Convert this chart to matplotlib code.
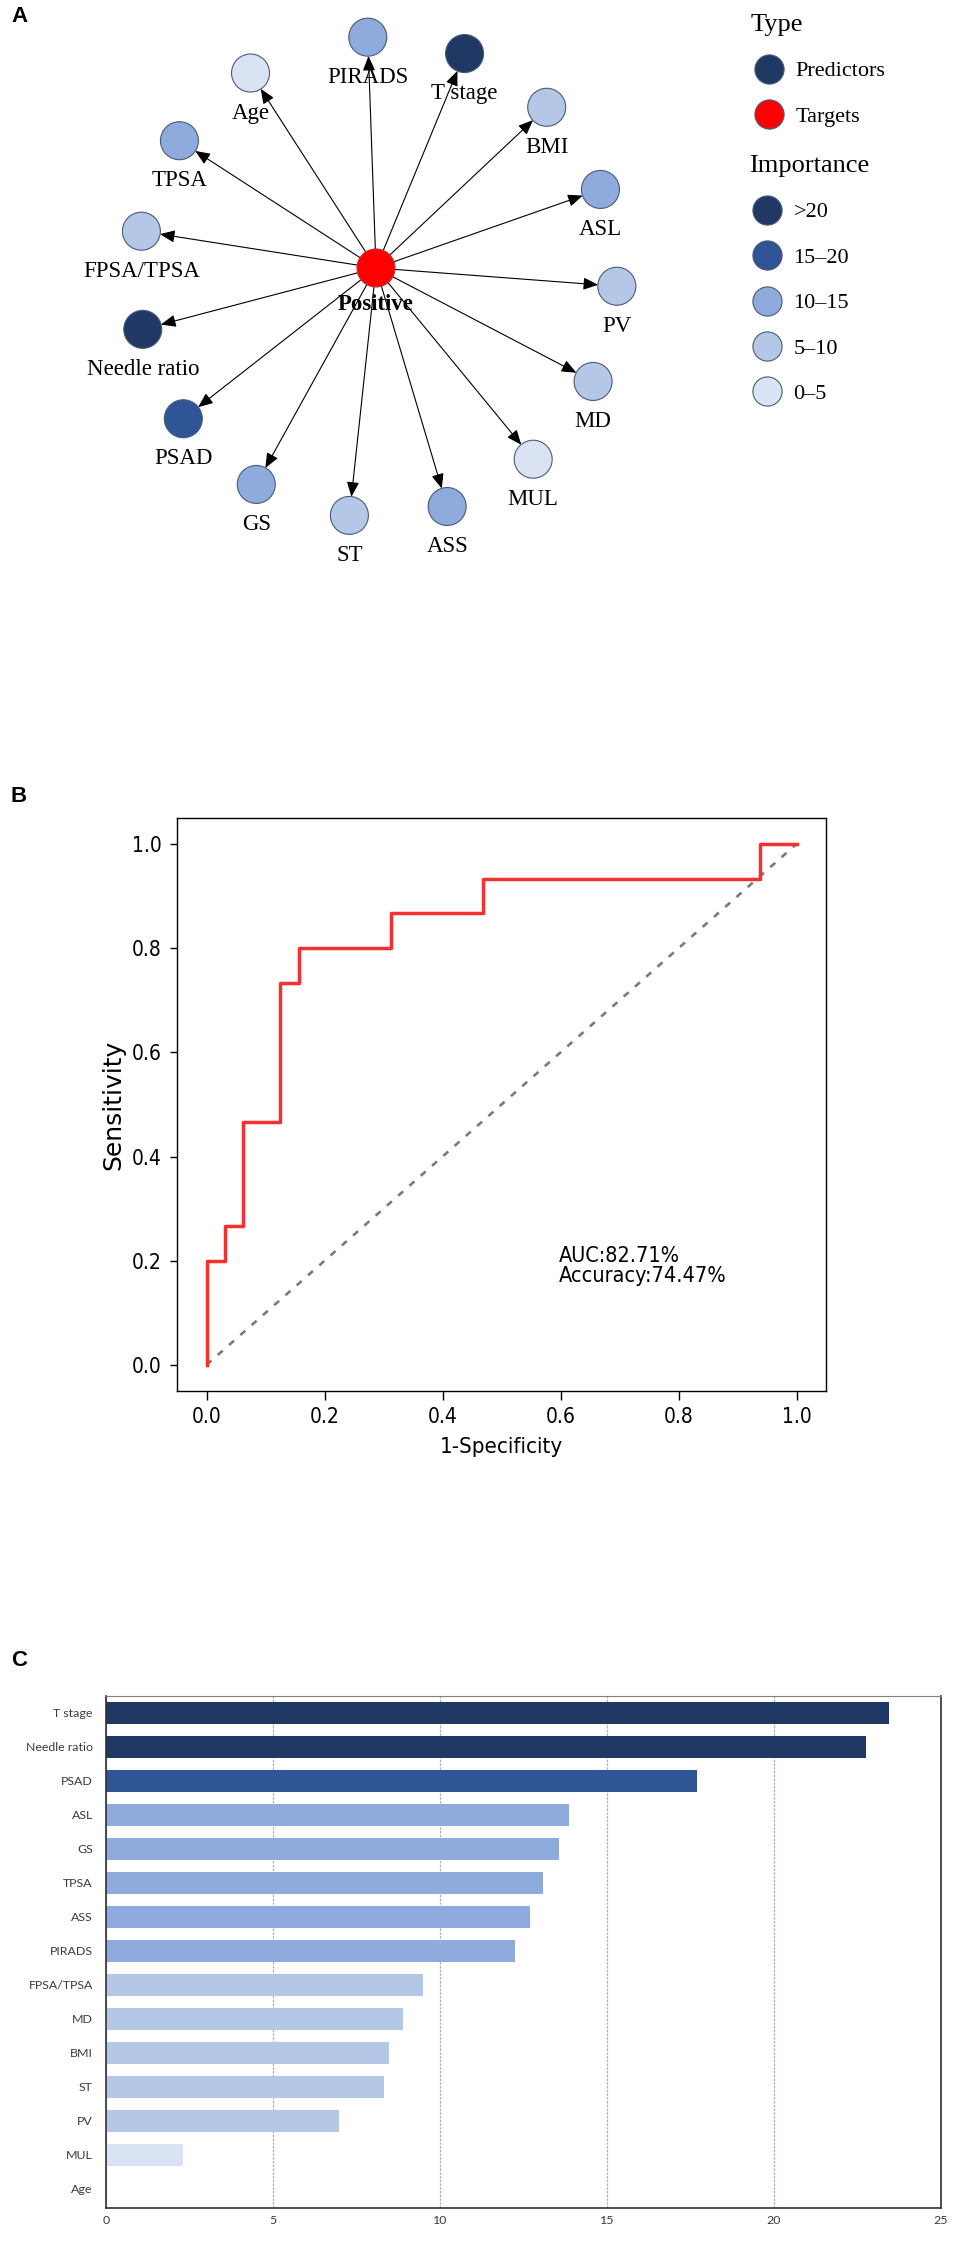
import numpy as np
import matplotlib
matplotlib.use('Agg')
import matplotlib.pyplot as plt
from matplotlib.patches import Circle
from matplotlib.lines import Line2D
from matplotlib import font_manager as fm

# ---- data ----
# feature importance (panel C), top to bottom
features = ['T stage', 'Needle ratio', 'PSAD', 'ASL', 'GS', 'TPSA', 'ASS', 'PIRADS',
            'FPSA/TPSA', 'MD', 'BMI', 'ST', 'PV', 'MUL', 'Age']
importance = [23.45, 22.75, 17.7, 13.85, 13.57, 13.08, 12.68, 12.25,
              9.48, 8.9, 8.48, 8.33, 6.98, 2.3, 0.0]

# network (panel A): predictors around the ring, clockwise from the top
ring_order = ['PIRADS', 'T stage', 'BMI', 'ASL', 'PV', 'MD', 'MUL', 'ASS', 'ST',
              'GS', 'PSAD', 'Needle ratio', 'FPSA/TPSA', 'TPSA', 'Age']
target = 'Positive'

bin_cuts = [5, 10, 15, 20]
bin_labels = ['0–5', '5–10', '10–15', '15–20', '>20']
bin_colors = ['#dae3f3', '#b4c7e7', '#8faadc', '#2f5597', '#203864']

# ROC curve (panel B)
fpr = [0.0, 0.0, 0.031, 0.031, 0.062, 0.062, 0.125, 0.125, 0.156, 0.156,
       0.312, 0.312, 0.469, 0.469, 0.938, 0.938, 1.0]
tpr = [0.0, 0.2, 0.2, 0.267, 0.267, 0.467, 0.467, 0.733, 0.733, 0.8,
       0.8, 0.867, 0.867, 0.933, 0.933, 1.0, 1.0]
auc = 82.71
accuracy = 74.47


def imp_color(v):
    return bin_colors[int(np.digitize(v, bin_cuts))]


def condensed_font():
    for f in fm.fontManager.ttflist:
        if f.name == 'DejaVu Sans' and 'condensed' in str(f.stretch):
            return dict(family='DejaVu Sans', stretch='condensed')
    names = {f.name for f in fm.fontManager.ttflist}
    if 'Liberation Sans Narrow' in names:
        return dict(family='Liberation Sans Narrow')
    return dict(family='DejaVu Sans')


W, H = 956, 2242
fig = plt.figure(figsize=(W / 100, H / 100), dpi=100)
serif = 'Liberation Serif'
imp = dict(zip(features, importance))

# ---- panel A: network ----
HA = 600
axA = fig.add_axes([0, 1 - HA / H, 1, HA / H])
axA.set_xlim(0, W)
axA.set_ylim(HA, 0)
axA.axis('off')

hub = np.array([376.0, 268.0])
ring_c = np.array([377.0, 277.0])
ring_r = 240
node_r = 19
ang = np.deg2rad(92.2 - 23.6 * np.arange(len(ring_order)))
pos = {n: ring_c + ring_r * np.array([np.cos(a), -np.sin(a)]) for n, a in zip(ring_order, ang)}

for n in ring_order:
    axA.annotate('', xy=pos[n], xytext=hub,
                 arrowprops=dict(arrowstyle='-|>,head_length=0.6,head_width=0.25',
                                 color='black', lw=0.8, shrinkA=13.5, shrinkB=13.5,
                                 mutation_scale=15), zorder=2)
    axA.add_patch(Circle(pos[n], node_r, facecolor=imp_color(imp[n]),
                         edgecolor='#4a5a78', lw=0.8, zorder=3))
    axA.text(pos[n][0], pos[n][1] + 40, n, family=serif, fontsize=16.5,
             ha='center', va='center', zorder=4)

axA.add_patch(Circle(hub, node_r, facecolor='#ff0000', edgecolor='#c03030', lw=0.8, zorder=3))
axA.text(hub[0], hub[1] + 37, target, family=serif, fontsize=16.5, fontweight='bold',
         ha='center', va='center', zorder=4)

def dot(c):
    return Line2D([], [], ls='none', marker='o', markersize=21, markerfacecolor=c,
                  markeredgecolor='#4a5a78', markeredgewidth=0.8)

leg_kw = dict(loc='upper left', bbox_transform=axA.transData, frameon=False,
              prop=dict(family=serif, size=16),
              title_fontproperties=dict(family=serif, size=19),
              alignment='left', handlelength=1.6, handletextpad=0.4,
              labelspacing=1.12, borderpad=0, borderaxespad=0)
leg1 = axA.legend(handles=[dot('#203864'), dot('#ff0000')], labels=['Predictors', 'Targets'],
                  title='Type', bbox_to_anchor=(751, 14), **leg_kw)
axA.add_artist(leg1)
axA.legend(handles=[dot(c) for c in bin_colors[::-1]], labels=bin_labels[::-1],
           title='Importance', bbox_to_anchor=(749, 155), **leg_kw)

# ---- panel B: ROC ----
cf = condensed_font()
axB = fig.add_axes([177 / W, 1 - 1391 / H, 649 / W, 573 / H])
axB.plot(fpr, tpr, color='#f53030', lw=2.5, zorder=3)
axB.plot([0, 1], [0, 1], color='#7a7a7a', lw=1.9, ls=(0, (2.5, 3.2)), zorder=2)
ticks = np.arange(0, 1.01, 0.2)
axB.set_xticks(ticks)
axB.set_yticks(ticks)
axB.set_xticklabels([f'{t:.1f}' for t in ticks], fontsize=15, **cf)
axB.set_yticklabels([f'{t:.1f}' for t in ticks], fontsize=15, **cf)
axB.tick_params(axis='x', length=6.5, width=1, pad=5)
axB.tick_params(axis='y', length=5, width=1, pad=6)
for s in axB.spines.values():
    s.set_linewidth(1.0)
axB.set_xlabel('1-Specificity', fontsize=16, labelpad=7, **cf)
axB.set_ylabel('Sensitivity', fontsize=18, labelpad=5, family='DejaVu Sans')
axB.text(0.598, 0.19, f'AUC:{auc:.2f}%\nAccuracy:{accuracy:.2f}%', fontsize=15.5,
         va='center', ha='left', linespacing=1.0, **cf)

# ---- panel C: importance bars ----
axC = fig.add_axes([106 / W, 1 - 2208 / H, 835 / W, 512 / H])
y = np.arange(len(features))
axC.barh(y, importance, height=0.66, color=[imp_color(v) for v in importance], zorder=2)
axC.set_yticks(y)
axC.set_yticklabels(features)
axC.set_ylim(len(features) - 0.44, -0.5)
axC.set_xlim(0, 25)
axC.set_xticks(np.arange(0, 26, 5))
axC.grid(axis='x', color='#a8b0c0', lw=0.9, ls=(0, (2, 1)), zorder=1)
axC.tick_params(length=0, labelsize=8.9, labelcolor='#3a3a3a')
axC.tick_params(axis='y', pad=9.5)
axC.tick_params(axis='x', pad=5)
for lbl in axC.get_xticklabels() + axC.get_yticklabels():
    lbl.set_family('Lato')
for k in ['left', 'bottom', 'right']:
    axC.spines[k].set_color('#303030')
    axC.spines[k].set_linewidth(1.2)
axC.spines['top'].set_color('#808080')

# panel letters
for letter, yy in [('A', 16), ('B', 797), ('C', 1660)]:
    fig.text(11 / W, 1 - yy / H, letter, fontsize=16, fontweight='bold',
             family='Liberation Sans', ha='left', va='center')

fig.savefig('out.png', dpi=100)
